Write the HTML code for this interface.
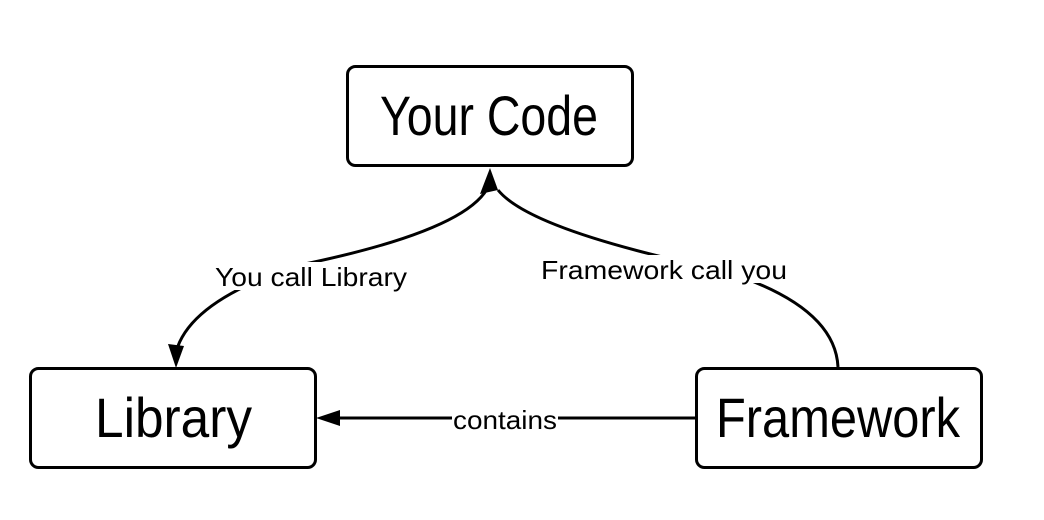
<!DOCTYPE html>
<html><head><style>
html,body{margin:0;padding:0;background:#fff;}
svg{display:block;}
</style></head><body>
<svg width="1044" height="520" viewBox="0 0 1044 520" xmlns="http://www.w3.org/2000/svg">
<g fill="none" stroke="#000" stroke-width="3">
<rect x="347.5" y="66.5" width="285" height="99" rx="8"/>
<rect x="30.5" y="368.5" width="285" height="99" rx="8"/>
<rect x="696.5" y="368.5" width="285" height="99" rx="8"/>
<path d="M489 185 Q 470 230 300 265 Q 190 300 176 352"/>
<path d="M838 367 Q 835 305 720 270 Q 530 230 498 190"/>
<path d="M695 418 L 330 418"/>
</g>
<g fill="#000">
<polygon points="490,168 480,194 498,190"/>
<polygon points="176,368 168,344 184,346"/>
<polygon points="316,418 340,410 340,426"/>
</g>
<g fill="#fff">
<rect x="213" y="262" width="196" height="28"/>
<rect x="540" y="255" width="250" height="28"/>
<rect x="452" y="405" width="106" height="28"/>
</g>
<g font-family="Liberation Sans, sans-serif" fill="#000">
<text x="215" y="286" font-size="26" textLength="192" lengthAdjust="spacingAndGlyphs">You call Library</text>
<text x="541" y="279" font-size="26" textLength="246" lengthAdjust="spacingAndGlyphs">Framework call you</text>
<text x="453" y="429" font-size="26" textLength="104" lengthAdjust="spacingAndGlyphs">contains</text>
<text x="380" y="135" font-size="56" textLength="218" lengthAdjust="spacingAndGlyphs">Your Code</text>
<text x="95" y="437" font-size="56" textLength="157" lengthAdjust="spacingAndGlyphs">Library</text>
<text x="716" y="437" font-size="56" textLength="244" lengthAdjust="spacingAndGlyphs">Framework</text>
</g>
</svg>
</body></html>
